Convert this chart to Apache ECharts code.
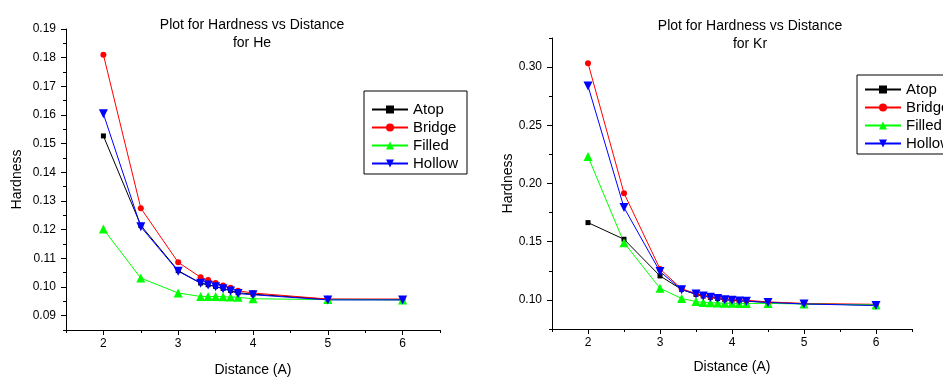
<!DOCTYPE html>
<html>
<head>
<meta charset="utf-8">
<script src="https://cdn.jsdelivr.net/npm/echarts@6/dist/echarts.min.js"></script>
<style>
  html, body { margin: 0; padding: 0; background: #fff; }
  #chart { width: 943px; height: 377px; }
</style>
</head>
<body>
<div id="chart"></div>
<script>
// Hardness vs distance, He
const heDistance = [2, 2.5, 3, 3.3, 3.4, 3.5, 3.6, 3.7, 3.8, 4, 5, 6];
const heAtop   = [0.1527, 0.1215, 0.1057, 0.1014, 0.1008, 0.1002, 0.0995, 0.0988, 0.0980, 0.0975, 0.0957, 0.0956];
const heBridge = [0.1810, 0.1275, 0.1086, 0.1034, 0.1024, 0.1014, 0.1005, 0.0997, 0.0987, 0.0979, 0.0958, 0.0958];
const heFilled = [0.1202, 0.1031, 0.0979, 0.0967, 0.0967, 0.0967, 0.0966, 0.0965, 0.0964, 0.0959, 0.0956, 0.0955];
const heHollow = [0.1604, 0.1210, 0.1055, 0.1013, 0.1007, 0.1001, 0.0994, 0.0986, 0.0977, 0.0973, 0.0955, 0.0955];

// Hardness vs distance, Kr
const krDistance = [2, 2.5, 3, 3.3, 3.5, 3.6, 3.7, 3.8, 3.9, 4.0, 4.1, 4.2, 4.5, 5, 6];
const krAtop   = [0.1664, 0.1521, 0.1206, 0.1090, 0.1047, 0.1033, 0.1022, 0.1012, 0.1003, 0.0997, 0.0992, 0.0989, 0.0979, 0.0966, 0.0955];
const krBridge = [0.3034, 0.1917, 0.1266, 0.1095, 0.1055, 0.1040, 0.1030, 0.1020, 0.1010, 0.1005, 0.1000, 0.0997, 0.0983, 0.0970, 0.0962];
const krFilled = [0.2231, 0.1492, 0.1100, 0.1012, 0.0986, 0.0978, 0.0975, 0.0973, 0.0972, 0.0971, 0.0970, 0.0970, 0.0970, 0.0965, 0.0957];
const krHollow = [0.2838, 0.1793, 0.1243, 0.1088, 0.1050, 0.1034, 0.1023, 0.1011, 0.1002, 0.0996, 0.0991, 0.0989, 0.0978, 0.0965, 0.0952];

// Tick labels
const xTicks = [2, 3, 4, 5, 6];
const heYTicks = [0.09, 0.10, 0.11, 0.12, 0.13, 0.14, 0.15, 0.16, 0.17, 0.18, 0.19];
const krYTicks = [0.10, 0.15, 0.20, 0.25, 0.30];

const seriesNames = ['Atop', 'Bridge', 'Filled', 'Hollow'];

const FONT = "'Liberation Sans', Arial, sans-serif";
const styles = {
  Atop:   { color: '#000000', symbol: 'rect',     size: 5, rotate: 0 },
  Bridge: { color: '#ff0000', symbol: 'circle',   size: 6, rotate: 0 },
  Filled: { color: '#00ff00', symbol: 'triangle', size: 9, rotate: 0 },
  Hollow: { color: '#0000ff', symbol: 'triangle', size: 9, rotate: 180 }
};

function pairs(xs, ys) { return xs.map((x, i) => [x, ys[i]]); }

function makeSeries(name, xs, ys, xi, yi) {
  const s = styles[name];
  return {
    name: name, type: 'line', xAxisIndex: xi, yAxisIndex: yi,
    data: pairs(xs, ys),
    symbol: s.symbol, symbolSize: s.size, symbolRotate: s.rotate,
    showAllSymbol: true,
    itemStyle: { color: s.color },
    lineStyle: { color: s.color, width: 1 },
    emphasis: { disabled: true },
    animation: false
  };
}

// Main axis: labels and long ticks at the labelled values
function mainAxis(opt) {
  return Object.assign({
    type: 'value',
    splitLine: { show: false },
    axisLine: { show: true, onZero: false, lineStyle: { color: '#000', width: 1 } },
    axisTick: { show: true, length: 5, customValues: opt.ticks, lineStyle: { color: '#000' } },
    axisLabel: {
      show: true, customValues: opt.ticks, color: '#000', fontSize: 12, fontFamily: FONT,
      margin: opt.labelMargin, formatter: opt.formatter
    },
    nameTextStyle: { color: '#000', fontSize: 14, fontFamily: FONT },
    nameLocation: 'middle'
  }, opt.extra);
}

// Minor axis: short ticks only, sharing the grid
function minorAxis(opt) {
  return Object.assign({
    type: 'value',
    splitLine: { show: false },
    axisLine: { show: false, onZero: false },
    axisTick: { show: true, length: 3, lineStyle: { color: '#000' } },
    axisLabel: { show: false }
  }, opt);
}

const chart = echarts.init(document.getElementById('chart'), null, { renderer: 'canvas' });

const legendBase = {
  orient: 'vertical',
  data: seriesNames,
  borderColor: '#000', borderWidth: 1, borderRadius: 0,
  itemWidth: 36, itemHeight: 10, itemGap: 3,
  textStyle: { color: '#000', fontSize: 15, fontFamily: FONT },
  selectedMode: false
};

const titleText = { color: '#000', fontSize: 14, fontWeight: 'normal', fontFamily: FONT, lineHeight: 18 };

const option = {
  animation: false,
  backgroundColor: '#ffffff',
  title: [
    { text: 'Plot for Hardness vs Distance\nfor He', left: 247, top: 11, textAlign: 'center', textStyle: titleText },
    { text: 'Plot for Hardness vs Distance\nfor Kr', left: 745, top: 12, textAlign: 'center', textStyle: titleText }
  ],
  legend: [
    Object.assign({}, legendBase, { left: 364, top: 91, padding: [11, 9, 3, 7] }),
    Object.assign({}, legendBase, { left: 857, top: 75, padding: [7, 9, 3, 7] })
  ],
  grid: [
    { left: 66, top: 29, width: 374, height: 301, containLabel: false, outerBoundsMode: 'none' },
    { left: 552, top: 38, width: 360, height: 291, containLabel: false, outerBoundsMode: 'none' }
  ],
  xAxis: [
    mainAxis({ ticks: xTicks, labelMargin: 8, formatter: v => String(v),
      extra: { gridIndex: 0, position: 'bottom', min: 1.5, max: 6.5, interval: 0.5, name: 'Distance (A)', nameGap: 33 } }),
    minorAxis({ gridIndex: 0, position: 'bottom', min: 1.5, max: 6.5, interval: 0.5 }),
    mainAxis({ ticks: xTicks, labelMargin: 8, formatter: v => String(v),
      extra: { gridIndex: 1, position: 'bottom', min: 1.5, max: 6.5, interval: 0.5, name: 'Distance (A)', nameGap: 31 } }),
    minorAxis({ gridIndex: 1, position: 'bottom', min: 1.5, max: 6.5, interval: 0.5 })
  ],
  yAxis: [
    mainAxis({ ticks: heYTicks, labelMargin: 10, formatter: v => v.toFixed(2),
      extra: { gridIndex: 0, position: 'left', min: 0.085, max: 0.19, interval: 0.005, name: 'Hardness', nameGap: 42 } }),
    minorAxis({ gridIndex: 0, position: 'left', min: 0.085, max: 0.19, interval: 0.005 }),
    mainAxis({ ticks: krYTicks, labelMargin: 10, formatter: v => v.toFixed(2),
      extra: { gridIndex: 1, position: 'left', min: 0.075, max: 0.325, interval: 0.025, name: 'Hardness', nameGap: 36 } }),
    minorAxis({ gridIndex: 1, position: 'left', min: 0.075, max: 0.325, interval: 0.025 })
  ],
  series: [
    makeSeries('Atop',   heDistance, heAtop,   0, 0),
    makeSeries('Bridge', heDistance, heBridge, 0, 0),
    makeSeries('Filled', heDistance, heFilled, 0, 0),
    makeSeries('Hollow', heDistance, heHollow, 0, 0),
    makeSeries('Atop',   krDistance, krAtop,   2, 2),
    makeSeries('Bridge', krDistance, krBridge, 2, 2),
    makeSeries('Filled', krDistance, krFilled, 2, 2),
    makeSeries('Hollow', krDistance, krHollow, 2, 2)
  ]
};

chart.setOption(option);
</script>
</body>
</html>
